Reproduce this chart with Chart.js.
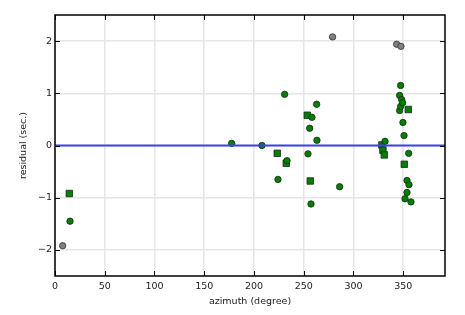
<!DOCTYPE html>
<html>
<head>
<meta charset="utf-8">
<script src="https://cdn.jsdelivr.net/npm/chart.js@4"></script>
<style>
  html, body { margin: 0; padding: 0; background: #fff; }
  #wrap { width: 465px; height: 315px; }
</style>
</head>
<body>
<div id="wrap"><canvas id="residChart" width="465" height="315"></canvas></div>
<script>
// axis limits and ticks
const xLimits = [0, 392];
const yLimits = [-2.5, 2.5];
const xTicks = [0, 50, 100, 150, 200, 250, 300, 350];
const yTicks = [-2, -1, 0, 1, 2];
const refLevel = 0;

// grey circles (azimuth, residual)
const greyAz  = [7.7, 279, 343.4, 347.7];
const greyRes = [-1.92, 2.08, 1.94, 1.90];

// green circles
const circAz  = [15.1, 177.6, 208, 224.1, 230.8, 233.2, 254.3, 256, 257.3, 258.3, 263, 263.3,
                 286.1, 331.7, 346.4, 346.4, 347.4, 347.4, 348.4, 349.4, 349.7, 350.8, 351.8,
                 353.8, 353.8, 355.5, 355.8, 357.8];
const circRes = [-1.45, 0.04, 0.0, -0.65, 0.98, -0.29, -0.16, 0.33, -1.12, 0.54, 0.79, 0.10,
                 -0.79, 0.08, 0.96, 0.67, 1.15, 0.75, 0.88, 0.82, 0.44, 0.19, -1.02,
                 -0.67, -0.90, -0.15, -0.75, -1.08];

// green squares
const sqAz  = [14.4, 223.4, 232.5, 253.6, 256.6, 328.6, 329.6, 331, 351.1, 355.1];
const sqRes = [-0.92, -0.15, -0.34, 0.58, -0.68, 0.01, -0.09, -0.18, -0.36, 0.69];

function pts(xs, ys) {
    return xs.map((x, i) => ({ x: x, y: ys[i] }));
}

Chart.defaults.font.family = 'DejaVu Sans';
Chart.defaults.font.size = 9.5;
Chart.defaults.color = '#222';

// frame plus inward tick marks on all four sides
const frameTicks = {
    id: 'frameTicks',
    afterDraw(chart) {
        const ctx = chart.ctx;
        const a = chart.chartArea;
        const xs = chart.scales.x, ys = chart.scales.y;
        const len = 5;
        ctx.save();
        ctx.strokeStyle = '#000';
        ctx.lineWidth = 1;
        ctx.beginPath();
        xTicks.forEach(v => {
            const px = Math.round(xs.getPixelForValue(v)) + 0.5;
            ctx.moveTo(px, a.bottom); ctx.lineTo(px, a.bottom - len);
            ctx.moveTo(px, a.top); ctx.lineTo(px, a.top + len);
        });
        yTicks.forEach(v => {
            const py = Math.round(ys.getPixelForValue(v)) + 0.5;
            ctx.moveTo(a.left, py); ctx.lineTo(a.left + len, py);
            ctx.moveTo(a.right, py); ctx.lineTo(a.right - len, py);
        });
        ctx.stroke();
        ctx.lineWidth = 1.5;
        ctx.strokeRect(a.left, a.top, a.right - a.left, a.bottom - a.top);
        ctx.restore();
    }
};

const minus = v => String(v).replace('-', '\u2212');

const ctx = document.getElementById('residChart').getContext('2d');
new Chart(ctx, {
    type: 'scatter',
    data: {
        datasets: [
            {
                type: 'line', label: 'zero', order: 0,
                data: [{ x: xLimits[0], y: refLevel }, { x: xLimits[1], y: refLevel }],
                borderColor: '#3f3ff2', borderWidth: 2, pointRadius: 0, fill: false
            },
            {
                label: 'grey', order: 1, data: pts(greyAz, greyRes),
                backgroundColor: '#808080', borderColor: '#333', borderWidth: 0.8,
                pointRadius: 3.2, pointStyle: 'circle'
            },
            {
                label: 'circles', order: 1, data: pts(circAz, circRes),
                backgroundColor: '#008000', borderColor: '#1a2a1a', borderWidth: 0.8,
                pointRadius: 3.2, pointStyle: 'circle'
            },
            {
                label: 'squares', order: 1, data: pts(sqAz, sqRes),
                backgroundColor: '#008000', borderColor: '#1a2a1a', borderWidth: 0.8,
                pointRadius: 4.6, pointStyle: 'rect'
            }
        ]
    },
    options: {
        responsive: false,
        animation: false,
        layout: { padding: { top: 15, right: 20, left: 0, bottom: 0 } },
        plugins: { legend: { display: false }, tooltip: { enabled: false } },
        scales: {
            x: {
                type: 'linear', min: xLimits[0], max: xLimits[1],
                afterFit: s => { s.height = 39; },
                afterBuildTicks: s => { s.ticks = xTicks.map(v => ({ value: v })); },
                grid: { color: '#e6e6e6', lineWidth: 1.5, drawTicks: false },
                border: { display: false },
                ticks: { padding: 5, callback: minus, maxRotation: 0 },
                title: { display: true, text: 'azimuth (degree)', padding: { top: 0, bottom: 8 } }
            },
            y: {
                type: 'linear', min: yLimits[0], max: yLimits[1],
                afterFit: s => { s.width = 55; },
                afterBuildTicks: s => { s.ticks = yTicks.map(v => ({ value: v })); },
                grid: { color: '#e6e6e6', lineWidth: 1.5, drawTicks: false },
                border: { display: false },
                ticks: { padding: 3, callback: minus },
                title: { display: true, text: 'residual (sec.)', padding: { top: 18, bottom: 0 } }
            }
        }
    },
    plugins: [frameTicks]
});
</script>
</body>
</html>
